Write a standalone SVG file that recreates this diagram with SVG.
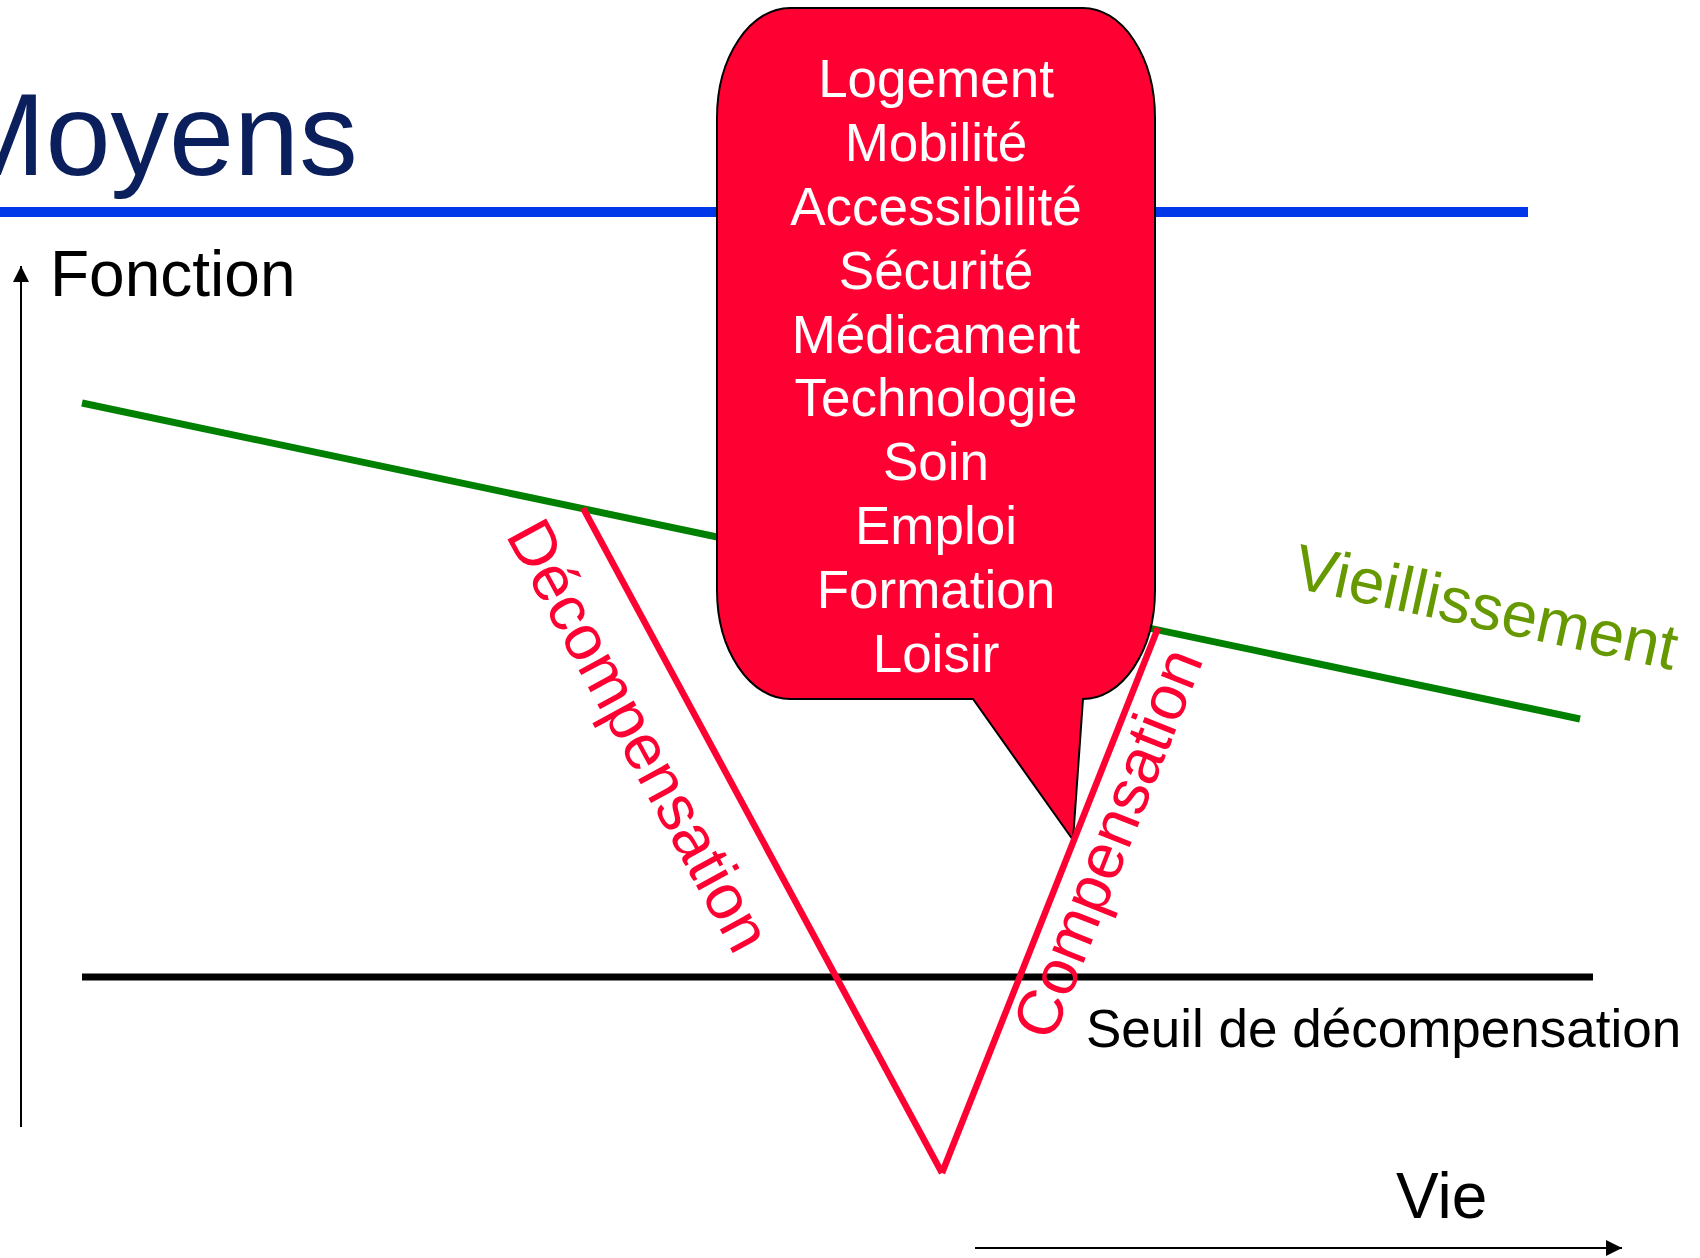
<svg xmlns="http://www.w3.org/2000/svg" width="1700" height="1258" viewBox="0 0 1700 1258">
<style>
text{font-family:"Liberation Sans",Arial,sans-serif}
.lbl{font-size:64px;fill:#000}
.red{fill:#ff0033;font-size:64px}
.bub{fill:#ffffff;font-size:53px;text-anchor:middle}
.axis{stroke:#000;stroke-width:2;fill:none}
.rl{stroke:#ff0033;stroke-width:6.5;fill:none;stroke-linecap:butt}
</style>
<defs>
<marker id="ah" markerWidth="16" markerHeight="16" refX="16" refY="8" orient="auto" markerUnits="userSpaceOnUse">
<path d="M0,0 L16,8 L0,16 Z" fill="#000"/>
</marker>
</defs>
<rect width="1700" height="1258" fill="#fff"/>
<g id="title">
<text x="-52" y="175" style="font-size:117px;fill:#0a1f5c">Moyens</text>
<rect x="0" y="207" width="1528" height="10" fill="#0037e8"/>
</g>
<g id="connectors">
<line id="y-axis" class="axis" x1="21" y1="1127" x2="21" y2="266" marker-end="url(#ah)"/>
<line id="x-axis" class="axis" x1="975" y1="1248" x2="1622" y2="1248" stroke-width="2.5" marker-end="url(#ah)"/>
<line id="vieillissement-line" x1="82" y1="403" x2="1580" y2="719" stroke="#008000" stroke-width="7"/>
<line id="seuil-line" x1="82" y1="977" x2="1593" y2="977" stroke="#000" stroke-width="7"/>
</g>
<g id="bubble">
<path d="M790,8 H1083 A72,110 0 0 1 1155,118 V590 A72,109 0 0 1 1083,699 L1073,840 L973,699 H790 A73,109 0 0 1 717,590 V118 A73,110 0 0 1 790,8 Z" fill="#ff0033" stroke="#000" stroke-width="2"/>
<text class="bub" x="936" y="97">Logement</text>
<text class="bub" x="936" y="161">Mobilité</text>
<text class="bub" x="936" y="225">Accessibilité</text>
<text class="bub" x="936" y="289">Sécurité</text>
<text class="bub" x="936" y="353">Médicament</text>
<text class="bub" x="936" y="416">Technologie</text>
<text class="bub" x="936" y="480">Soin</text>
<text class="bub" x="936" y="544">Emploi</text>
<text class="bub" x="936" y="608">Formation</text>
<text class="bub" x="936" y="672">Loisir</text>
</g>
<g id="v-curve">
<line class="rl" x1="583" y1="508" x2="942" y2="1173"/>
<line class="rl" x1="942" y1="1173" x2="1158" y2="628"/>
</g>
<g id="labels">
<text class="lbl" x="50" y="296">Fonction</text>
<text class="lbl" x="1396" y="1218">Vie</text>
<text x="1086" y="1047" style="font-size:53px;fill:#000">Seuil de décompensation</text>
<text x="1291" y="587" transform="rotate(12.3 1291 587)" style="font-size:64px;fill:#669900">Vieillissement</text>
<text class="red" x="505" y="535" transform="rotate(61.4 505 535)">Décompensation</text>
<text class="red" x="1052" y="1043" transform="rotate(-68.4 1052 1043)">Compensation</text>
</g>
</svg>
